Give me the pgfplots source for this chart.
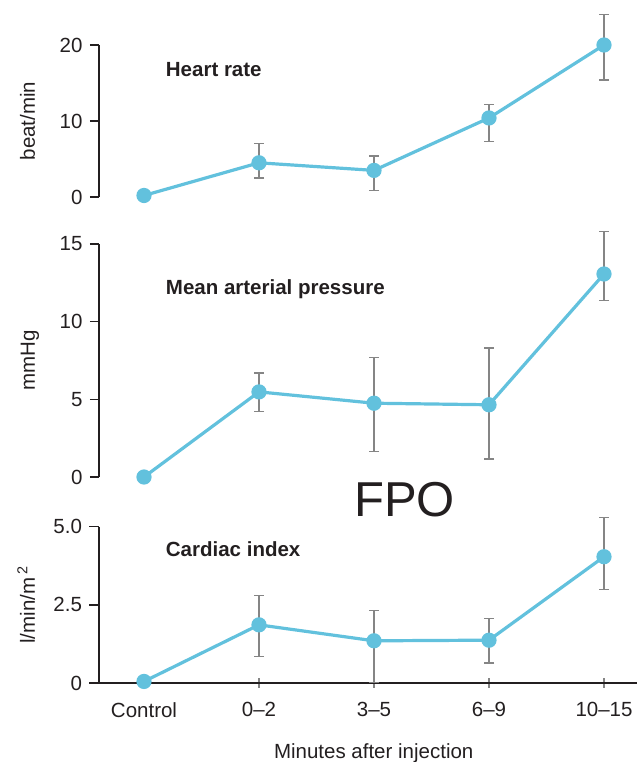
\documentclass[border=0pt]{standalone}
\usepackage{pgfplots}
\pgfplotsset{compat=1.18}
\usepackage{pgfplotstable}
\usepackage{fontspec}
\setmainfont{Liberation Sans}
\definecolor{lineblue}{HTML}{62C1DD}
\definecolor{errgray}{HTML}{858585}
\definecolor{axisdark}{HTML}{231F20}

% Heart rate (beat/min)
\pgfplotstableread{
x y
0 0.2
1 4.5
2 3.5
3 10.4
4 20.0
}\hrline
\pgfplotstableread{
x y ep em
1 4.5 2.5 2.0
2 3.5 1.9 2.6
3 10.4 1.8 3.1
4 20.0 4.0 4.6
}\hrerr

% Mean arterial pressure (mmHg)
\pgfplotstableread{
x y
0 0.0
1 5.48
2 4.75
3 4.65
4 13.07
}\mapline
\pgfplotstableread{
x y ep em
1 5.48 1.22 1.28
2 4.75 2.95 3.12
3 4.65 3.65 3.49
4 13.07 2.73 1.72
}\maperr

% Cardiac index (l/min/m2)
\pgfplotstableread{
x y
0 0.05
1 1.86
2 1.35
3 1.37
4 4.04
}\ciline
\pgfplotstableread{
x y ep em
1 1.86 0.94 1.01
2 1.35 0.96 1.34
3 1.37 0.70 0.73
4 4.04 1.26 1.04
}\cierr

\newcommand{\bigf}{\fontsize{20.5}{24}\selectfont}

\tikzset{ptitle/.style={anchor=base west, inner sep=0pt, font=\bfseries\bigf, text=axisdark}}

\pgfplotsset{
  panel/.style={
    scale only axis, width=538pt,
    xmin=-0.3913, xmax=4.287,
    axis y line=left,
    axis line style={-, line width=1.8pt, draw=axisdark},
    clip=false,
    tick align=outside, major tick length=9pt,
    ytick style={line width=1.5pt, draw=axisdark},
    tick label style={font=\bigf, text=axisdark},
    yticklabel style={xshift=-4pt},
    /pgf/number format/assume math mode=true,
    every axis y label/.style={at={(axis description cs:-0.119,0.5)}, anchor=base, rotate=90, font=\bigf, text=axisdark},
  },
  errstyle/.style={
    mark=none, draw=none, forget plot,
    error bars/.cd, y dir=both, y explicit,
    error bar style={draw=errgray, line width=1.3pt},
    error mark options={rotate=90, mark size=5pt, draw=errgray, line width=1.3pt},
  },
  linestyle/.style={
    lineblue, line width=3.2pt, mark=*, mark size=6pt,
    mark options={fill=lineblue, draw=none},
  },
}

\begin{document}
\begin{tikzpicture}
% Panel 1: Heart rate
\begin{axis}[panel, at={(99pt,-197pt)}, anchor=south west, height=152pt,
  ymin=0, ymax=20, ytick={0,10,20}, yticklabels={0,10,20},
  axis x line=none, xtick=\empty,
  ylabel={beat/min}]
  \addplot[errstyle] table[x=x,y=y,y error plus=ep,y error minus=em]{\hrerr};
  \addplot[linestyle] table[x=x,y=y]{\hrline};
  \node[ptitle] at (axis cs:0.189,15.8) {Heart rate};
\end{axis}
% Panel 2: Mean arterial pressure
\begin{axis}[panel, at={(99pt,-477pt)}, anchor=south west, height=233pt,
  ymin=0, ymax=15, ytick={0,5,10,15}, yticklabels={0,5,10,15},
  axis x line=none, xtick=\empty,
  ylabel={mmHg}]
  \addplot[errstyle] table[x=x,y=y,y error plus=ep,y error minus=em]{\maperr};
  \addplot[linestyle] table[x=x,y=y]{\mapline};
  \node[ptitle] at (axis cs:0.189,11.78) {Mean arterial pressure};
\end{axis}
% Panel 3: Cardiac index
\begin{axis}[panel, at={(99pt,-683pt)}, anchor=south west, height=156.3pt,
  ymin=0, ymax=5, ytick={0,2.5,5}, yticklabels={0,2.5,5.0},
  axis x line=bottom,
  axis line style={-, line width=1.8pt, draw=axisdark},
  major tick length=9.5pt,
  xtick={0,1,2,3,4},
  xticklabels={Control,0\textendash 2,3\textendash 5,6\textendash 9,10\textendash 15},
  xtick style={line width=1.3pt, draw=errgray},
  xticklabel style={yshift=-11pt},
  ylabel={l/min/m\,\textsuperscript{2}}]
  \addplot[errstyle] table[x=x,y=y,y error plus=ep,y error minus=em]{\cierr};
  \addplot[linestyle] table[x=x,y=y]{\ciline};
  \node[ptitle] at (axis cs:0.189,4.06) {Cardiac index};
\end{axis}
\node[anchor=base, font=\bigf, text=axisdark] at (373.7pt,-758pt) {Minutes after injection};
\node[anchor=base, font=\fontsize{49}{55}\selectfont, text=axisdark] at (404.5pt,-516pt) {FPO};
\pgfresetboundingbox
\path[use as bounding box] (0,0) rectangle (638pt,-762pt);
\end{tikzpicture}
\end{document}
